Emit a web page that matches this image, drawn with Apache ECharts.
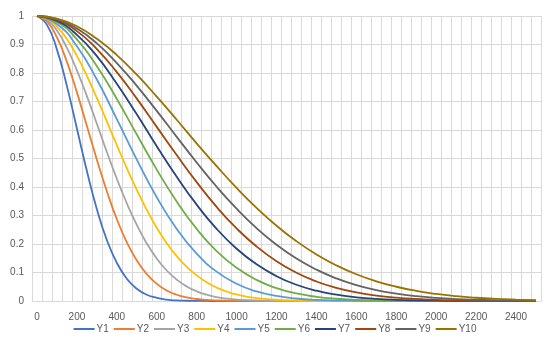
<!DOCTYPE html>
<html>
<head>
<meta charset="utf-8">
<script src="https://cdn.jsdelivr.net/npm/echarts@6/dist/echarts.min.js"></script>
<style>html,body{margin:0;padding:0;background:#fff}#c{width:550px;height:346px}</style>
</head>
<body>
<div id="c"></div>
<script>
// Category labels of the x axis (one every 50)
var xCategories = ['0','50','100','150','200','250','300','350','400','450','500','550','600','650','700','750','800','850','900','950','1000','1050','1100','1150','1200','1250','1300','1350','1400','1450','1500','1550','1600','1650','1700','1750','1800','1850','1900','1950','2000','2050','2100','2150','2200','2250','2300','2350','2400','2450','2500'];
// Sample x positions of the curves (finer sampling for the steep curves)
var xFine   = [0,50,100,150,200,250,300,350,400,450,500,550,600,650,700,750,800,850,900,950,1000,1100,1200,1300,1400,1500,1600,1700,1800,1900,2000,2100,2200,2300,2400,2500];
var xCoarse = [0,100,200,300,400,500,600,700,800,900,1000,1100,1200,1300,1400,1500,1600,1700,1800,1900,2000,2100,2200,2300,2400,2500];
var seriesNames = ['Y1','Y2','Y3','Y4','Y5','Y6','Y7','Y8','Y9','Y10'];
var Y1  = [1,0.969,0.882,0.754,0.605,0.456,0.322,0.214,0.134,0.078,0.043,0.022,0.011,0.005,0.002,0.0008,0.0003,0.0001,0,0,0,0,0,0,0,0,0,0,0,0,0,0,0,0,0,0];
var Y2  = [1,0.981,0.925,0.839,0.732,0.614,0.496,0.385,0.287,0.206,0.142,0.0944,0.060,0.037,0.022,0.0124,0.007,0.0036,0.0018,0.0009,0.0004,0.0001,0,0,0,0,0,0,0,0,0,0,0,0,0,0];
var Y3  = [1,0.987,0.949,0.888,0.809,0.719,0.622,0.523,0.429,0.343,0.267,0.202,0.149,0.107,0.075,0.051,0.034,0.022,0.0138,0.0085,0.0051,0.0017,0.0005,0.0001,0,0,0,0,0,0,0,0,0,0,0,0];
var Y4  = [1,0.991,0.963,0.919,0.860,0.790,0.712,0.630,0.547,0.466,0.390,0.320,0.257,0.203,0.158,0.120,0.090,0.0656,0.047,0.0333,0.023,0.0104,0.0044,0.0017,0.0006,0.0002,0,0,0,0,0,0,0,0,0,0];
var Y5  = [1,0.972,0.894,0.777,0.638,0.496,0.364,0.253,0.166,0.103,0.0605,0.0335,0.0176,0.0087,0.0041,0.0018,0.0008,0.0003,0.0001,0,0,0,0,0,0,0];
var Y6  = [1,0.979,0.918,0.824,0.709,0.584,0.461,0.349,0.253,0.175,0.1165,0.0742,0.0452,0.0264,0.0148,0.0079,0.0041,0.0020,0.0009,0.0004,0.0002,0,0,0,0,0];
var Y7  = [1,0.983,0.934,0.859,0.762,0.655,0.543,0.436,0.338,0.253,0.1835,0.1286,0.0871,0.0570,0.0360,0.0220,0.0130,0.0074,0.0041,0.0022,0.0011,0.0006,0.0003,0.0001,0,0];
var Y8  = [1,0.986,0.947,0.884,0.803,0.710,0.611,0.512,0.417,0.330,0.2546,0.1911,0.1395,0.0991,0.0685,0.0461,0.0301,0.0192,0.0119,0.0072,0.0042,0.0024,0.0013,0.0007,0.0004,0.0002];
var Y9  = [1,0.989,0.956,0.904,0.835,0.755,0.667,0.576,0.486,0.401,0.3240,0.2557,0.1973,0.1489,0.1099,0.0792,0.0559,0.0385,0.0260,0.0171,0.0110,0.0069,0.0043,0.0026,0.0015,0.0009];
var Y10 = [1,0.991,0.964,0.920,0.863,0.794,0.717,0.636,0.553,0.473,0.3967,0.3267,0.2641,0.2096,0.1633,0.1249,0.0938,0.0691,0.0500,0.0355,0.0248,0.0170,0.0114,0.0075,0.0049,0.0031];
var yTicks = [0,0.1,0.2,0.3,0.4,0.5,0.6,0.7,0.8,0.9,1];

var allY = [Y1,Y2,Y3,Y4,Y5,Y6,Y7,Y8,Y9,Y10];
var allX = [xFine,xFine,xFine,xFine,xCoarse,xCoarse,xCoarse,xCoarse,xCoarse,xCoarse];
var colors = ['#4472C4','#ED7D31','#A5A5A5','#FFC000','#5B9BD5','#70AD47','#264478','#9E480E','#636363','#997300'];
var font = 'Liberation Sans, Arial, sans-serif';

var series = seriesNames.map(function (n, i) {
  return {
    name: n, type: 'line', xAxisIndex: 1, smooth: 0.5,
    symbol: 'none', showSymbol: false,
    lineStyle: {width: 1.8, color: colors[i]}, itemStyle: {color: colors[i]},
    data: allX[i].map(function (x, j) { return [x, allY[i][j]]; }),
    z: 10 + i
  };
});

var chart = echarts.init(document.getElementById('c'), null, {renderer: 'canvas'});
chart.setOption({
  animation: false,
  color: colors,
  grid: {left: 32, right: 9, top: 16, bottom: 45, containLabel: false},
  xAxis: [{
    type: 'category', data: xCategories, boundaryGap: true,
    axisLine: {show: true, lineStyle: {color: '#d9d9d9', width: 1}},
    axisTick: {show: false},
    axisLabel: {interval: 3, color: '#595959', fontSize: 10, fontFamily: font, margin: 11},
    splitLine: {show: true, interval: 0, lineStyle: {color: '#d9d9d9', width: 1}}
  }, {
    type: 'value', min: -25, max: 2525, show: false
  }],
  yAxis: {
    type: 'value', min: yTicks[0], max: yTicks[yTicks.length - 1], interval: 0.1,
    axisLine: {show: false}, axisTick: {show: false},
    axisLabel: {color: '#595959', fontSize: 10, fontFamily: font, margin: 8,
      formatter: function (v) { return String(Math.round(v * 10) / 10); }},
    splitLine: {show: true, lineStyle: {color: '#d9d9d9', width: 1}}
  },
  legend: {
    data: seriesNames, bottom: 7, left: 'center', itemWidth: 21, itemHeight: 2, itemGap: 5,
    icon: 'rect',
    textStyle: {color: '#595959', fontSize: 10, fontFamily: font, padding: [0, 0, 0, -3]}
  },
  series: series
});
</script>
</body>
</html>
